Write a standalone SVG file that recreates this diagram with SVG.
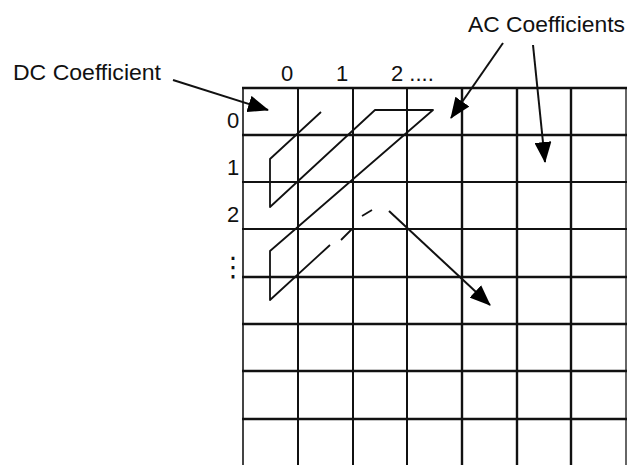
<svg xmlns="http://www.w3.org/2000/svg" width="627" height="465" viewBox="0 0 627 465">
<style>
  .lbl { font-family: "Liberation Sans", Arial, sans-serif; font-size: 22px; fill: #111; }
  .dots { font-family: "DejaVu Sans", "Liberation Sans", sans-serif; font-size: 27px; fill: #111; }
  .grid line { stroke: #111; stroke-width: 2; }
  .zig { fill: none; stroke: #111; stroke-width: 1.8; stroke-linejoin: round; }
  .arr { stroke: #111; stroke-width: 2; fill: none; marker-end: url(#ah); }
</style>
<defs>
  <marker id="ah" viewBox="0 0 21 17" refX="20" refY="8.5" markerWidth="21" markerHeight="17" markerUnits="userSpaceOnUse" orient="auto">
    <path d="M0,0 L21,8.5 L0,17 z" fill="#000"/>
  </marker>
</defs>
<rect width="627" height="465" fill="#fff"/>
<g id="grid" class="grid">
  <line x1="243" y1="88" x2="243" y2="465" style="stroke:#444"/>
  <line x1="298" y1="88" x2="298" y2="465"/>
  <line x1="353" y1="88" x2="353" y2="465"/>
  <line x1="407" y1="88" x2="407" y2="465"/>
  <line x1="462" y1="88" x2="462" y2="465" style="stroke-width:2.4"/>
  <line x1="517" y1="88" x2="517" y2="465" style="stroke-width:2.4"/>
  <line x1="571" y1="88" x2="571" y2="465" style="stroke-width:2.4"/>
  <line x1="626" y1="88" x2="626" y2="465" style="stroke:#666"/>
  <line x1="242" y1="88" x2="627" y2="88" style="stroke-width:2.4"/>
  <line x1="242" y1="135" x2="627" y2="135" style="stroke-width:2.4"/>
  <line x1="242" y1="182" x2="627" y2="182"/>
  <line x1="242" y1="229" x2="627" y2="229"/>
  <line x1="242" y1="277" x2="627" y2="277" style="stroke-width:2.4"/>
  <line x1="242" y1="324" x2="627" y2="324" style="stroke-width:2.4"/>
  <line x1="242" y1="371" x2="627" y2="371" style="stroke-width:2.4"/>
  <line x1="242" y1="419" x2="627" y2="419" style="stroke-width:2.4"/>
</g>
<g id="labels">
  <text class="lbl" x="13" y="80" textLength="148" lengthAdjust="spacingAndGlyphs">DC Coefficient</text>
  <text class="lbl" x="468" y="32" textLength="157" lengthAdjust="spacingAndGlyphs">AC Coefficients</text>
  <text class="lbl" x="287" y="81" text-anchor="middle">0</text>
  <text class="lbl" x="342" y="81" text-anchor="middle">1</text>
  <text class="lbl" x="391" y="81">2 ....</text>
  <text class="lbl" x="233" y="128" text-anchor="middle">0</text>
  <text class="lbl" x="233" y="175" text-anchor="middle">1</text>
  <text class="lbl" x="233" y="222" text-anchor="middle">2</text>
  <text class="dots" x="233" y="276" text-anchor="middle">⋮</text>
</g>
<g id="zigzag">
  <path class="zig" d="M321,112 L270,159 L270,207 L375,110 L433,110 L270,251 L270,300 L330,245"/>
  <path class="zig" d="M341,240 L352,229"/>
  <path class="zig" d="M362,216 L372,210"/>
</g>
<g id="connectors">
  <line class="arr" x1="173" y1="80" x2="268" y2="110"/>
  <line class="arr" x1="503" y1="43" x2="451" y2="118"/>
  <line class="arr" x1="533" y1="45" x2="545" y2="162"/>
  <line class="arr" x1="389" y1="211" x2="490" y2="305"/>
</g>
</svg>
